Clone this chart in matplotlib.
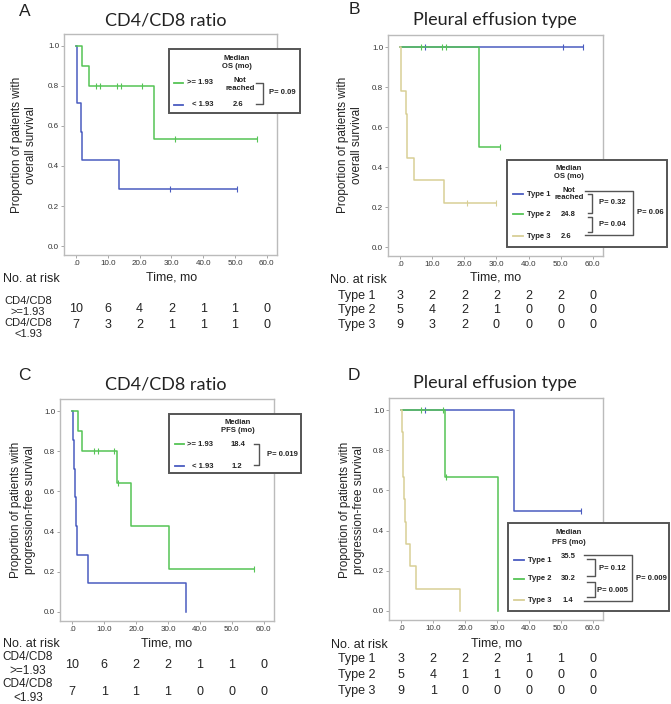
import numpy as np
import matplotlib.pyplot as plt
import matplotlib.transforms as mtransforms
from matplotlib.patches import Rectangle
from matplotlib.lines import Line2D

W, H = 671, 704
fig = plt.figure(figsize=(W / 100, H / 100), dpi=100)

GREEN = '#55c455'
BLUE = '#4a5cc0'
KHAKI = '#d8cf96'
ARIAL = 'Liberation Sans'

x_ticks = [0, 10, 20, 30, 40, 50, 60]
x_tick_labels = ['.0', '10.0', '20.0', '30.0', '40.0', '50.0', '60.0']
y_ticks = [0, 0.2, 0.4, 0.6, 0.8, 1.0]
y_tick_labels = ['0.0', '0.2', '0.4', '0.6', '0.8', '1.0']

# A: OS by CD4/CD8 ratio (step start times, levels, last follow-up, censored)
a_hi_t = [0, 1.9, 4.2, 24.5]
a_hi_s = [1.0, 0.9, 0.8, 0.533]
a_hi_end = 56.8
a_hi_cens = [6.3, 7.5, 13.0, 14.2, 20.7, 31.0, 56.8]
a_lo_t = [0, 0.2, 0.3, 1.7, 2.0, 13.6]
a_lo_s = [1.0, 0.857, 0.714, 0.571, 0.429, 0.286]
a_lo_end = 50.5
a_lo_cens = [29.6, 50.5]
risk_a_hi = [10, 6, 4, 2, 1, 1, 0]
risk_a_lo = [7, 3, 2, 1, 1, 1, 0]

# B: OS by pleural effusion type
b_t1_t = [0]
b_t1_s = [1.0]
b_t1_end = 56.9
b_t1_cens = [7.6, 50.6, 56.9]
b_t2_t = [0, 24.6]
b_t2_s = [1.0, 0.5]
b_t2_end = 31.2
b_t2_cens = [6.4, 12.9, 14.2, 31.2]
b_t3_t = [0, 0.2, 0.4, 1.7, 2.0, 2.1, 4.3, 13.7]
b_t3_s = [1.0, 0.889, 0.778, 0.667, 0.556, 0.444, 0.333, 0.222]
b_t3_end = 29.8
b_t3_cens = [20.7, 29.8]
risk_b = [[3, 2, 2, 2, 2, 2, 0], [5, 4, 2, 1, 0, 0, 0], [9, 3, 2, 0, 0, 0, 0]]

# C: PFS by CD4/CD8 ratio
c_hi_t = [0, 1.8, 3.1, 14.0, 18.4, 30.4]
c_hi_s = [1.0, 0.9, 0.8, 0.64, 0.427, 0.213]
c_hi_end = 56.9
c_hi_cens = [6.7, 8.0, 13.2, 14.4, 56.9]
c_lo_t = [0, 0.4, 0.7, 0.9, 1.2, 1.5, 5.1, 35.5]
c_lo_s = [1.0, 0.857, 0.714, 0.571, 0.429, 0.286, 0.143, 0.0]
c_lo_end = 35.5
c_lo_cens = []
risk_c_hi = [10, 6, 2, 2, 1, 1, 0]
risk_c_lo = [7, 1, 1, 1, 0, 0, 0]

# D: PFS by pleural effusion type
d_t1_t = [0, 35.3]
d_t1_s = [1.0, 0.5]
d_t1_end = 56.4
d_t1_cens = [7.6, 56.4]
d_t2_t = [0, 13.6, 30.2]
d_t2_s = [1.0, 0.667, 0.0]
d_t2_end = 30.2
d_t2_cens = [6.3, 13.0, 14.1]
d_t3_t = [0, 0.3, 0.5, 0.7, 1.0, 1.2, 1.4, 2.9, 4.5, 18.3]
d_t3_s = [1.0, 0.889, 0.778, 0.667, 0.556, 0.444, 0.333, 0.222, 0.111, 0.0]
d_t3_end = 18.3
d_t3_cens = []
risk_d = [[3, 2, 2, 2, 1, 1, 0], [5, 4, 1, 1, 0, 0, 0], [9, 1, 0, 0, 0, 0, 0]]

type_labels = ['Type 1', 'Type 2', 'Type 3']


def fx(x):
    return x / W


def fy(y):
    return 1 - y / H


def txt(x, y, s, ha='center', size=5.5, weight='bold', family=ARIAL, z=7, **kw):
    fig.text(fx(x), fy(y), s, ha=ha, va='center', fontsize=size, fontweight=weight,
             family=family, color='#222222', zorder=z, **kw)


def seg(xs, ys, color='#555555', lw=1.0):
    fig.add_artist(Line2D([fx(x) for x in xs], [fy(y) for y in ys], color=color, lw=lw, zorder=7))


def box(x0, y0, x1, y1):
    fig.add_artist(Rectangle((fx(x0) + 0.002, fy(y1) - 0.002), (x1 - x0) / W, (y1 - y0) / H,
                             facecolor='#cfcfcf', edgecolor='none', zorder=5))
    fig.add_artist(Rectangle((fx(x0), fy(y1)), (x1 - x0) / W, (y1 - y0) / H,
                             facecolor='white', edgecolor='#555555', lw=1.4, zorder=6))


def km_axes(rect, curves):
    left, top, right, bottom = rect
    ax = fig.add_axes([fx(left), fy(bottom), (right - left) / W, (bottom - top) / H])
    for t, s, end, cens, col in curves:
        ax.step(list(t) + [end], list(s) + [s[-1]], where='post', color=col, lw=1.1)
        if len(cens):
            idx = np.searchsorted(t, cens, side='right') - 1
            ax.plot(cens, np.array(s)[idx], ls='none', marker='|', ms=4, mew=0.8, color=col)
    ax.set_xlim(-3.8, 63.2)
    ax.set_ylim(-0.045, 1.06)
    ax.set_xticks(x_ticks)
    ax.set_xticklabels(x_tick_labels, family=ARIAL)
    ax.set_yticks(y_ticks)
    ax.set_yticklabels(y_tick_labels, family=ARIAL)
    ax.tick_params(length=2, width=0.6, color='#999999', labelsize=5.8, pad=1.5, labelcolor='#333333')
    for sp in ax.spines.values():
        sp.set_color('#bbbbbb')
        sp.set_linewidth(1.0)
    return ax


def risk_row(ax, y, values):
    trans = mtransforms.blended_transform_factory(ax.transData, fig.transFigure)
    for xv, v in zip(x_ticks, values):
        ax.text(xv, fy(y), str(v), transform=trans, ha='center', va='center',
                fontsize=9, family=ARIAL, color='#222222', clip_on=False)


# ---------------- A ----------------
ax_a = km_axes((64, 34, 277, 255), [
    (a_lo_t, a_lo_s, a_lo_end, a_lo_cens, BLUE),
    (a_hi_t, a_hi_s, a_hi_end, a_hi_cens, GREEN)])
txt(25, 11, 'A', size=12.5, weight='normal')
txt(166, 21, 'CD4/CD8 ratio', size=13, weight='normal', family='Lato')
txt(24, 145, 'Proportion of patients with\noverall survival', size=8.5, weight='normal', rotation=90)
txt(172, 278, 'Time, mo', size=9, weight='normal')
txt(3, 279, 'No. at risk', ha='left', size=9, weight='normal')
for yy, lab in zip([301, 312, 323, 334], ['CD4/CD8', '>=1.93', 'CD4/CD8', '<1.93']):
    txt(28, yy, lab, size=8, weight='normal')
risk_row(ax_a, 309, risk_a_hi)
risk_row(ax_a, 325, risk_a_lo)

box(169, 49, 300, 113)
txt(237, 59, 'Median')
txt(237, 67, 'OS (mo)')
seg([174, 183], [83, 83], GREEN, 1.3)
txt(213, 83, '>= 1.93', ha='right')
txt(240, 84.5, 'Not\nreached', linespacing=1.1)
seg([174, 183], [105, 105], BLUE, 1.3)
txt(213, 105, '< 1.93', ha='right')
txt(238, 105, '2.6')
seg([256, 263, 263, 256], [83, 83, 104, 104])
txt(282, 93, 'P= 0.09')

# ---------------- B ----------------
ax_b = km_axes((388, 35, 603, 256), [
    (b_t1_t, b_t1_s, b_t1_end, b_t1_cens, BLUE),
    (b_t2_t, b_t2_s, b_t2_end, b_t2_cens, GREEN),
    (b_t3_t, b_t3_s, b_t3_end, b_t3_cens, KHAKI)])
txt(354, 10, 'B', size=12.5, weight='normal')
txt(495, 20, 'Pleural effusion type', size=13, weight='normal', family='Lato')
txt(350, 145, 'Proportion of patients with\noverall survival', size=8.5, weight='normal', rotation=90)
txt(496, 278, 'Time, mo', size=9, weight='normal')
txt(330, 280, 'No. at risk', ha='left', size=9, weight='normal')
for yy, lab, vals in zip([296, 310, 325], type_labels, risk_b):
    txt(338, yy, lab, ha='left', size=9, weight='normal')
    risk_row(ax_b, yy, vals)

box(507, 160, 667, 247)
txt(569, 169, 'Median')
txt(569, 177, 'OS (mo)')
for yy, lab, col in zip([194, 214, 236], type_labels, [BLUE, GREEN, KHAKI]):
    seg([513, 523], [yy, yy], col, 1.3)
    txt(527, yy, lab, ha='left')
txt(569, 194, 'Not\nreached', linespacing=1.1)
txt(568, 214, '24.8')
txt(566, 236, '2.6')
seg([585, 633, 633, 585], [191, 191, 235, 235])
seg([588, 592, 592, 588], [194, 194, 213, 213])
seg([588, 592, 592, 588], [217, 217, 232, 232])
txt(612, 203, 'P= 0.32')
txt(612, 225, 'P= 0.04')
txt(650, 213, 'P= 0.06')

# ---------------- C ----------------
ax_c = km_axes((60, 399, 274, 621), [
    (c_lo_t, c_lo_s, c_lo_end, c_lo_cens, BLUE),
    (c_hi_t, c_hi_s, c_hi_end, c_hi_cens, GREEN)])
txt(24, 376, 'C', size=12.5, weight='normal')
txt(166, 384, 'CD4/CD8 ratio', size=13, weight='normal', family='Lato')
txt(23, 510, 'Proportion of patients with\nprogression-free survival', size=8.5, weight='normal', rotation=90)
txt(167, 644, 'Time, mo', size=9, weight='normal')
txt(3, 644, 'No. at risk', ha='left', size=9, weight='normal')
for yy, lab in zip([657, 671.5, 684, 698], ['CD4/CD8', '>=1.93', 'CD4/CD8', '<1.93']):
    txt(28, yy, lab, size=8.5, weight='normal')
risk_row(ax_c, 665, risk_c_hi)
risk_row(ax_c, 692, risk_c_lo)

box(169, 414, 301, 473)
txt(238, 423, 'Median')
txt(238, 431, 'PFS (mo)')
seg([175, 184], [444, 444], GREEN, 1.3)
txt(213, 444, '>= 1.93', ha='right')
txt(238, 444, '18.4')
seg([175, 184], [466, 466], BLUE, 1.3)
txt(213, 466, '< 1.93', ha='right')
txt(237, 466, '1.2')
seg([254, 259, 259, 254], [444, 444, 465, 465])
txt(282, 454, 'P= 0.019')

# ---------------- D ----------------
ax_d = km_axes((389, 398, 603, 620), [
    (d_t1_t, d_t1_s, d_t1_end, d_t1_cens, BLUE),
    (d_t2_t, d_t2_s, d_t2_end, d_t2_cens, GREEN),
    (d_t3_t, d_t3_s, d_t3_end, d_t3_cens, KHAKI)])
txt(354, 376, 'D', size=12.5, weight='normal')
txt(495, 383, 'Pleural effusion type', size=13, weight='normal', family='Lato')
txt(352, 510, 'Proportion of patients with\nprogression-free survival', size=8.5, weight='normal', rotation=90)
txt(497, 644, 'Time, mo', size=9, weight='normal')
txt(331, 645, 'No. at risk', ha='left', size=9, weight='normal')
for yy, lab, vals in zip([659, 675, 691], type_labels, risk_d):
    txt(338, yy, lab, ha='left', size=9, weight='normal')
    risk_row(ax_d, yy, vals)

box(508, 523, 669, 611)
txt(569, 533, 'Median')
txt(569, 542, 'PFS (mo)')
for yy, lab, col in zip([560, 579, 600], type_labels, [BLUE, GREEN, KHAKI]):
    seg([514, 524], [yy, yy], col, 1.3)
    txt(528, yy, lab, ha='left')
txt(568, 557, '35.5')
txt(568, 579, '30.2')
txt(568, 600, '1.4')
seg([584, 632, 632, 584], [555, 555, 601, 601])
seg([587, 595, 595, 587], [559, 559, 576, 576])
seg([587, 595, 595, 587], [582, 582, 597, 597])
txt(612, 568, 'P= 0.12')
txt(612, 590, 'P= 0.005')
txt(651, 579, 'P= 0.009')

fig.savefig('out.png', dpi=100)
